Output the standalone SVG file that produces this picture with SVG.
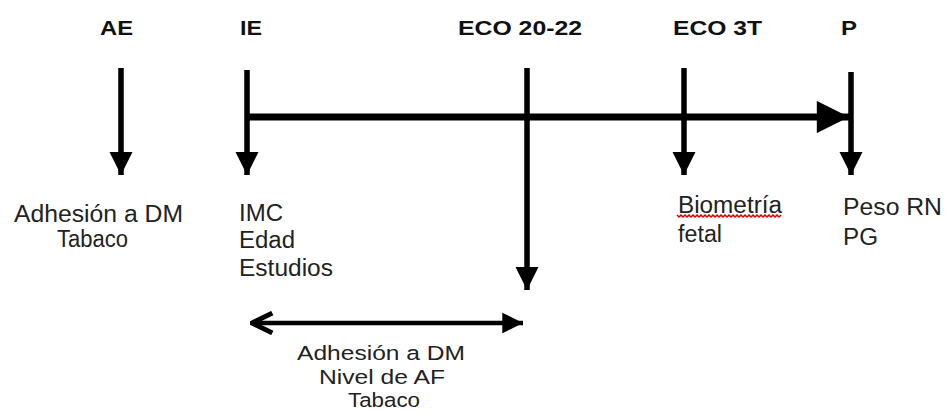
<svg xmlns="http://www.w3.org/2000/svg" width="945" height="412" viewBox="0 0 945 412">
<style>
.h{font-family:"Liberation Sans",Arial,sans-serif;font-weight:bold;font-size:21px;fill:#111;}
.t{font-family:"Liberation Sans",Arial,sans-serif;font-size:23px;fill:#222;}
.s{font-size:20.5px;}
.ln{stroke:#000;stroke-width:5.5;fill:none;}
</style>
<defs>
<marker id="tri" viewBox="0 0 10 10" refX="10" refY="5" markerWidth="4.2" markerHeight="4.2" orient="auto" markerUnits="strokeWidth">
<path d="M0,0 L10,5 L0,10 Z" fill="#000"/>
</marker>
<marker id="tri2" viewBox="0 0 10 10" refX="10" refY="5" markerWidth="5" markerHeight="4.6" orient="auto" markerUnits="strokeWidth">
<path d="M0,0 L10,5 L0,10 Z" fill="#000"/>
</marker>
<marker id="chev" viewBox="0 0 10 10" refX="9" refY="5" markerWidth="5.5" markerHeight="5.5" orient="auto-start-reverse" markerUnits="strokeWidth">
<path d="M0.8,1 L9,5 L0.8,9" fill="none" stroke="#000" stroke-width="2" stroke-linejoin="miter"/>
</marker>
</defs>
<rect width="945" height="412" fill="#fff"/>
<g id="labels">
<text class="h" x="100" y="35" textLength="33" lengthAdjust="spacingAndGlyphs">AE</text>
<text class="h" x="240" y="35" textLength="22" lengthAdjust="spacingAndGlyphs">IE</text>
<text class="h" x="458" y="35" textLength="124" lengthAdjust="spacingAndGlyphs">ECO 20-22</text>
<text class="h" x="673" y="35" textLength="89" lengthAdjust="spacingAndGlyphs">ECO 3T</text>
<text class="h" x="841" y="35" textLength="16" lengthAdjust="spacingAndGlyphs">P</text>
</g>
<g id="connectors">
<line class="ln" x1="121" y1="68" x2="121" y2="175" marker-end="url(#tri)"/>
<line class="ln" x1="247" y1="70" x2="247" y2="175" marker-end="url(#tri)"/>
<line class="ln" x1="527" y1="68" x2="527" y2="290" marker-end="url(#tri)"/>
<line class="ln" x1="684" y1="68" x2="684" y2="175" marker-end="url(#tri)"/>
<line class="ln" x1="851" y1="72" x2="851" y2="175" marker-end="url(#tri)"/>
<line x1="247" y1="117" x2="849" y2="117" stroke="#000" stroke-width="7" marker-end="url(#tri2)"/>
<line x1="252" y1="323" x2="523" y2="323" stroke="#000" stroke-width="4.5" marker-start="url(#chev)" marker-end="url(#tri2)"/>
</g>
<g id="node-ae">
<text class="t" x="14" y="222" textLength="169" lengthAdjust="spacingAndGlyphs">Adhesión a DM</text>
<text class="t" x="57" y="247" textLength="71" lengthAdjust="spacingAndGlyphs">Tabaco</text>
</g>
<g id="node-ie">
<text class="t" x="239" y="221" textLength="44" lengthAdjust="spacingAndGlyphs">IMC</text>
<text class="t" x="239" y="248" textLength="56" lengthAdjust="spacingAndGlyphs">Edad</text>
<text class="t" x="239" y="276" textLength="94" lengthAdjust="spacingAndGlyphs">Estudios</text>
</g>
<g id="node-eco3t">
<text class="t" x="678" y="213" textLength="104" lengthAdjust="spacingAndGlyphs">Biometría</text>
<path d="M677,215 l2,2 l2,-2 l2,2 l2,-2 l2,2 l2,-2 l2,2 l2,-2 l2,2 l2,-2 l2,2 l2,-2 l2,2 l2,-2 l2,2 l2,-2 l2,2 l2,-2 l2,2 l2,-2 l2,2 l2,-2 l2,2 l2,-2 l2,2 l2,-2 l2,2 l2,-2 l2,2 l2,-2 l2,2 l2,-2 l2,2 l2,-2 l2,2 l2,-2 l2,2 l2,-2 l2,2 l2,-2 l2,2 l2,-2 l2,2 l2,-2 l2,2 l2,-2 l2,2 l2,-2 l2,2 l2,-2 l2,2 l2,-2" fill="none" stroke="#d00" stroke-width="1.5"/>
<text class="t" x="678" y="242" textLength="44" lengthAdjust="spacingAndGlyphs">fetal</text>
</g>
<g id="node-p">
<text class="t" x="843" y="215" textLength="99" lengthAdjust="spacingAndGlyphs">Peso RN</text>
<text class="t" x="843" y="245" textLength="35" lengthAdjust="spacingAndGlyphs">PG</text>
</g>
<g id="node-range">
<text class="t s" x="297" y="360" textLength="168" lengthAdjust="spacingAndGlyphs">Adhesión a DM</text>
<text class="t s" x="319" y="384" textLength="126" lengthAdjust="spacingAndGlyphs">Nivel de AF</text>
<text class="t s" x="348" y="407" textLength="72" lengthAdjust="spacingAndGlyphs">Tabaco</text>
</g>
</svg>
